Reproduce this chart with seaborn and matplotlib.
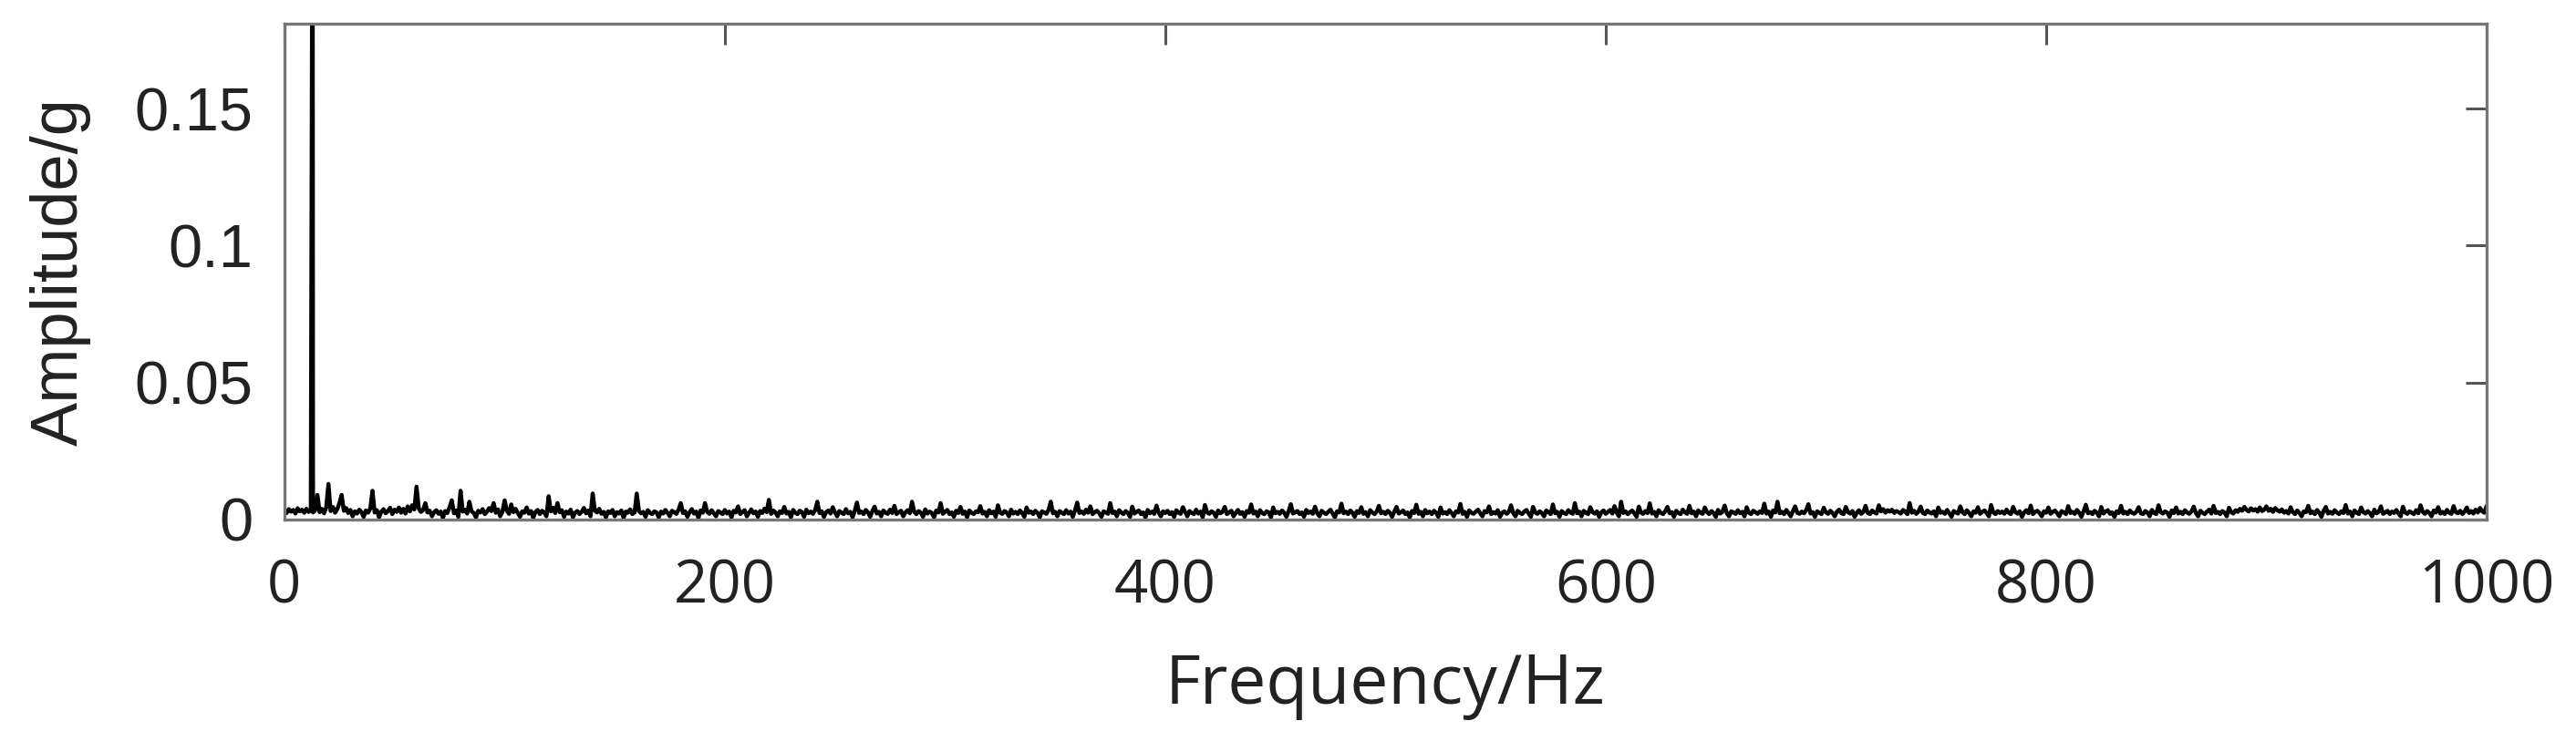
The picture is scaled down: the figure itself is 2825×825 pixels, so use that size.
import numpy as np
import pandas as pd
import matplotlib
matplotlib.use("Agg")
import matplotlib.pyplot as plt
import seaborn as sns

amp_mg = [
    3.1, 2.4, 3.8, 2.9, 3.5, 2.2, 4.1, 3.0, 3.6, 2.5, 3.9, 2.8, 3.3, 2.6, 3.4, 9.0, 2.7, 3.9, 2.3, 4.4,
    13.0, 3.1, 4.6, 2.5, 3.8, 6.0, 9.0, 3.2, 4.2, 2.4, 3.5, 1.2, 3.0, 2.2, 3.6, 2.7, 1.0, 3.3, 2.5, 4.0,
    10.5, 2.6, 3.4, 0.8, 2.9, 3.8, 2.3, 3.1, 4.3, 2.0, 3.6, 2.8, 4.4, 2.5, 3.9, 2.2, 4.8, 3.0, 5.2, 3.7,
    12.0, 4.1, 2.8, 3.5, 6.0, 2.6, 3.2, 1.2, 2.7, 3.4, 2.1, 2.9, 0.6, 3.1, 2.4, 4.5, 7.0, 2.3, 3.3, 1.0,
    10.5, 2.9, 3.6, 2.2, 6.5, 3.0, 2.4, 0.8, 3.2, 2.6, 3.8, 2.0, 2.9, 4.2, 3.1, 6.0, 2.5, 3.7, 1.2, 2.8,
    7.0, 3.3, 2.1, 5.5, 2.7, 3.9, 2.4, 1.0, 3.0, 2.5, 4.4, 2.2, 3.1, 0.6, 2.8, 3.5, 2.0, 3.2, 2.6, 1.2,
    8.5, 3.0, 4.3, 2.4, 6.0, 2.7, 3.4, 1.0, 2.9, 2.2, 3.6, 0.8, 2.5, 3.1, 2.0, 2.8, 4.2, 2.3, 3.3, 1.2,
    9.5, 3.2, 2.6, 3.9, 2.1, 2.8, 0.8, 3.0, 2.4, 3.5, 1.2, 2.7, 2.2, 3.3, 0.6, 2.9, 2.5, 3.7, 2.0, 2.6,
    9.5, 3.1, 2.3, 2.8, 1.0, 3.4, 2.5, 2.0, 3.0, 2.6, 0.8, 2.9, 2.2, 3.5, 2.4, 1.2, 3.2, 2.7, 2.1, 3.6,
    6.0, 2.4, 3.0, 1.0, 2.7, 3.8, 2.2, 2.9, 0.6, 3.3, 2.5, 6.0, 2.8, 2.1, 3.4, 2.3, 1.2, 3.1, 2.6, 2.0,
    3.5, 2.2, 2.9, 0.8, 3.2, 2.6, 4.8, 2.0, 2.8, 3.4, 1.2, 2.5, 3.7, 2.3, 2.9, 1.0, 3.1, 2.4, 4.0, 2.7,
    7.2, 2.1, 3.3, 2.6, 1.2, 3.0, 2.4, 4.6, 2.2, 2.8, 0.8, 3.5, 2.5, 2.0, 3.2, 2.7, 1.0, 3.6, 2.3, 2.9,
    2.1, 3.4, 6.5, 2.4, 3.0, 1.0, 2.7, 3.3, 2.2, 4.5, 2.6, 1.2, 3.1, 2.5, 2.0, 3.8, 2.3, 2.8, 0.8, 3.2,
    6.2, 2.4, 2.9, 2.0, 3.5, 2.6, 1.0, 3.1, 4.7, 2.2, 2.8, 1.2, 3.3, 2.5, 2.1, 3.6, 2.4, 5.0, 2.0, 2.7,
    3.2, 1.2, 2.6, 3.4, 2.3, 6.5, 2.8, 2.0, 3.1, 2.5, 1.0, 3.7, 2.2, 2.9, 2.4, 0.8, 3.3, 2.6, 6.0, 2.1,
    2.8, 3.5, 2.0, 2.6, 1.0, 3.2, 2.4, 4.6, 2.1, 2.9, 0.8, 3.3, 2.5, 2.0, 3.0, 2.7, 4.9, 2.2, 2.8, 1.2,
    3.4, 2.3, 2.9, 1.0, 5.2, 2.5, 2.1, 3.1, 2.6, 1.2, 3.6, 2.2, 2.8, 2.0, 3.3, 2.4, 1.0, 4.4, 2.5, 2.9,
    2.0, 3.2, 2.4, 0.8, 3.0, 2.6, 2.1, 3.5, 6.5, 2.3, 2.8, 1.2, 3.1, 2.5, 2.0, 3.4, 2.2, 2.9, 1.0, 3.3,
    6.2, 2.4, 2.9, 2.1, 3.6, 2.5, 4.8, 2.0, 2.7, 3.2, 2.3, 1.0, 3.0, 2.6, 2.1, 6.0, 2.4, 2.9, 1.2, 3.4,
    2.6, 2.0, 3.1, 2.4, 1.0, 4.7, 2.2, 2.8, 3.3, 2.0, 2.6, 0.8, 3.5, 2.3, 2.9, 2.1, 5.1, 2.5, 1.2, 3.0,
    2.4, 3.2, 2.0, 2.7, 1.0, 3.4, 2.5, 2.1, 4.5, 2.8, 1.2, 3.1, 2.4, 2.0, 3.6, 2.2, 2.9, 0.8, 5.3, 2.6,
    2.1, 3.0, 2.5, 1.0, 3.3, 2.3, 2.8, 4.6, 2.0, 2.6, 3.2, 1.2, 2.4, 3.5, 2.1, 2.7, 1.0, 3.1, 2.5, 5.5,
    2.2, 2.9, 1.2, 3.4, 2.4, 2.0, 3.0, 2.6, 0.8, 4.4, 2.3, 2.8, 2.1, 3.3, 2.5, 1.0, 3.0, 5.6, 2.2, 2.7,
    3.1, 2.0, 2.6, 1.0, 3.5, 2.4, 2.9, 2.1, 4.7, 2.3, 1.2, 3.2, 2.5, 2.0, 2.8, 3.6, 2.2, 0.8, 3.0, 2.6,
    5.8, 2.3, 2.9, 2.0, 3.3, 2.5, 1.0, 3.1, 2.4, 4.5, 2.1, 2.7, 1.2, 3.4, 2.6, 2.0, 2.9, 5.0, 2.3, 2.8,
    2.0, 3.2, 2.5, 1.0, 2.9, 4.6, 2.2, 2.7, 3.3, 2.0, 2.6, 0.8, 3.1, 2.4, 5.4, 2.1, 2.8, 1.2, 3.5, 2.3,
    2.9, 2.0, 3.2, 2.5, 1.0, 4.4, 2.2, 2.7, 2.0, 3.4, 2.4, 1.2, 3.0, 2.6, 5.7, 2.1, 2.8, 1.0, 3.3, 2.5,
    2.1, 2.9, 3.6, 2.3, 1.2, 3.1, 2.6, 4.8, 2.0, 2.7, 2.2, 3.4, 1.0, 2.5, 3.0, 2.1, 2.8, 5.2, 2.4, 1.2,
    3.2, 2.5, 2.0, 2.9, 3.5, 2.2, 1.0, 4.6, 2.6, 2.1, 3.0, 2.4, 1.2, 3.3, 2.7, 2.0, 5.5, 2.3, 2.8, 1.0,
    3.1, 2.4, 2.0, 3.4, 2.6, 2.1, 6.0, 2.3, 2.9, 1.2, 3.2, 2.5, 2.0, 4.5, 2.7, 2.2, 3.0, 1.0, 2.6, 3.3,
    2.1, 2.8, 3.5, 2.2, 4.9, 2.5, 1.2, 6.5, 2.4, 3.0, 2.0, 2.7, 3.3, 2.3, 1.0, 4.7, 2.6, 2.1, 3.1, 2.4,
    5.9, 2.2, 2.8, 1.2, 3.4, 2.5, 2.0, 3.0, 4.6, 2.3, 2.7, 1.0, 3.2, 2.4, 2.0, 3.6, 2.6, 2.1, 5.0, 2.3,
    2.9, 1.2, 3.3, 2.5, 2.1, 4.4, 2.7, 2.0, 3.1, 2.4, 1.0, 3.5, 2.2, 2.8, 5.1, 2.3, 1.2, 3.0, 2.6, 2.1,
    3.4, 2.3, 2.8, 1.2, 4.5, 2.5, 2.0, 3.2, 2.7, 2.1, 3.0, 2.4, 5.8, 2.2, 2.9, 1.0, 3.3, 2.6, 6.5, 2.3,
    2.8, 2.0, 3.5, 2.4, 1.2, 3.1, 4.8, 2.5, 2.1, 2.9, 2.3, 3.4, 5.6, 2.2, 2.7, 1.0, 3.0, 2.5, 2.0, 4.3,
    2.6, 2.1, 3.2, 2.4, 1.2, 2.9, 3.6, 2.3, 2.0, 4.6, 2.7, 2.2, 3.1, 1.0, 2.5, 3.4, 2.1, 2.8, 5.0, 2.4,
    2.0, 3.3, 2.6, 2.2, 5.2, 3.0, 3.8, 2.5, 3.4, 2.9, 3.6, 2.4, 3.1, 2.7, 2.2, 3.5, 2.8, 2.0, 6.0, 2.5,
    3.2, 2.1, 2.9, 4.7, 2.4, 2.0, 3.3, 2.6, 2.2, 3.0, 1.2, 4.4, 2.5, 2.8, 2.1, 3.5, 2.3, 1.0, 3.1, 2.6,
    2.2, 4.8, 2.7, 2.0, 3.4, 2.4, 1.2, 3.0, 2.5, 4.5, 2.1, 2.8, 3.3, 2.3, 1.2, 5.3, 2.6, 2.0, 3.1, 2.4,
    2.9, 2.1, 3.6, 2.5, 2.0, 4.6, 2.7, 2.2, 3.0, 1.0, 2.6, 3.4, 2.3, 5.1, 2.0, 2.8, 3.2, 2.4, 1.2, 3.0,
    2.5, 4.4, 2.1, 2.8, 3.3, 2.3, 1.2, 3.1, 2.6, 2.0, 4.9, 2.4, 2.8, 2.1, 3.5, 2.5, 1.0, 3.0, 5.4, 2.3,
    2.7, 2.0, 3.2, 2.5, 1.2, 4.6, 2.2, 2.9, 3.4, 2.1, 2.6, 1.0, 3.0, 2.4, 5.0, 2.2, 2.8, 2.0, 3.3, 2.5,
    2.1, 2.9, 4.5, 2.3, 2.0, 3.1, 2.6, 1.2, 3.5, 2.4, 2.0, 5.2, 2.7, 2.2, 3.0, 2.5, 1.0, 3.3, 2.4, 4.4,
    2.2, 2.8, 2.0, 3.4, 2.6, 2.1, 3.0, 4.7, 2.3, 1.2, 3.2, 2.5, 2.0, 2.9, 3.6, 2.2, 5.0, 2.4, 2.8, 2.0,
    3.1, 2.5, 1.2, 4.3, 2.7, 2.2, 3.4, 2.8, 3.9, 3.2, 4.6, 3.5, 3.0, 4.1, 3.3, 3.8, 2.9, 4.4, 3.1, 3.6,
    4.8, 3.2, 3.9, 2.8, 4.2, 3.4, 2.9, 3.7, 2.5, 3.1, 2.2, 4.5, 2.6, 2.0, 3.3, 2.4, 1.2, 3.0, 2.7, 5.0,
    2.3, 2.9, 2.0, 3.5, 2.5, 1.0, 3.2, 4.6, 2.2, 2.8, 2.1, 3.4, 2.6, 2.0, 3.0, 2.4, 5.3, 2.2, 2.9, 1.2,
    3.3, 2.5, 2.0, 4.4, 2.7, 2.2, 3.1, 2.4, 1.2, 3.6, 2.3, 2.8, 4.8, 2.1, 2.6, 3.2, 2.0, 2.9, 2.4, 3.5,
    2.2, 1.2, 4.7, 2.6, 2.1, 3.0, 2.5, 2.0, 3.4, 2.3, 5.2, 2.8, 2.1, 3.1, 2.4, 1.2, 3.3, 2.6, 4.5, 2.2,
    2.8, 2.0, 3.5, 2.5, 2.1, 4.9, 2.7, 2.3, 3.2, 2.0, 2.9, 4.4, 2.4, 3.1, 2.2, 3.6, 2.6, 4.2, 3.0, 2.5,
    5.0,
]
freq_hz = np.arange(len(amp_mg))  # 1 Hz bins

# the dominant line near 12.8 Hz runs off the top of the axes
spike_hz = [12.8]
spike_mg = [260.0]

x_ticks = [0, 200, 400, 600, 800, 1000]
x_tick_labels = ["0", "200", "400", "600", "800", "1000"]
y_ticks = [0, 0.05, 0.1, 0.15]
y_tick_labels = ["0", "0.05", "0.1", "0.15"]

assert len(amp_mg) == 1001

df = pd.DataFrame({
    "Frequency": np.concatenate([freq_hz, spike_hz]),
    "Amplitude": np.concatenate([amp_mg, spike_mg]) / 1000.0,
})

sns.set_theme(style="white")
plt.rcParams["font.family"] = ["Open Sans", "DejaVu Sans"]

fig = plt.figure(figsize=(28.25, 8.25), dpi=100)
ax = fig.add_axes([0.1104, 0.3091, 0.9653 - 0.1104, 0.9685 - 0.3091])

sns.lineplot(data=df, x="Frequency", y="Amplitude", estimator=None,
             color="black", linewidth=3.2, ax=ax)

ax.set_xlim(0, 1000)
ax.set_ylim(0, 0.181)

ax.set_xticks(x_ticks)
ax.set_xticklabels(x_tick_labels, fontsize=47, color="#222222",
                   fontfamily=["Open Sans", "DejaVu Sans"])
ax.set_yticks(y_ticks)
ax.set_yticklabels(y_tick_labels, fontsize=48, color="#222222",
                   fontfamily=["Liberation Sans", "DejaVu Sans"])

ax.tick_params(axis="both", direction="in", length=16.5, width=2.2,
               color="#555555", top=True, right=True)
ax.tick_params(axis="x", pad=30)
ax.tick_params(axis="y", pad=25)

for sp in ax.spines.values():
    sp.set_color("#777777")
    sp.set_linewidth(2.4)

ax.set_xlabel("Frequency/Hz", fontsize=54, color="#222222", labelpad=27,
              fontfamily=["Open Sans", "DejaVu Sans"])
ax.set_ylabel("Amplitude/g", fontsize=52, color="#222222", labelpad=34,
              fontfamily=["Liberation Sans", "DejaVu Sans"])

fig.savefig("out.png", dpi=100, facecolor="white")
